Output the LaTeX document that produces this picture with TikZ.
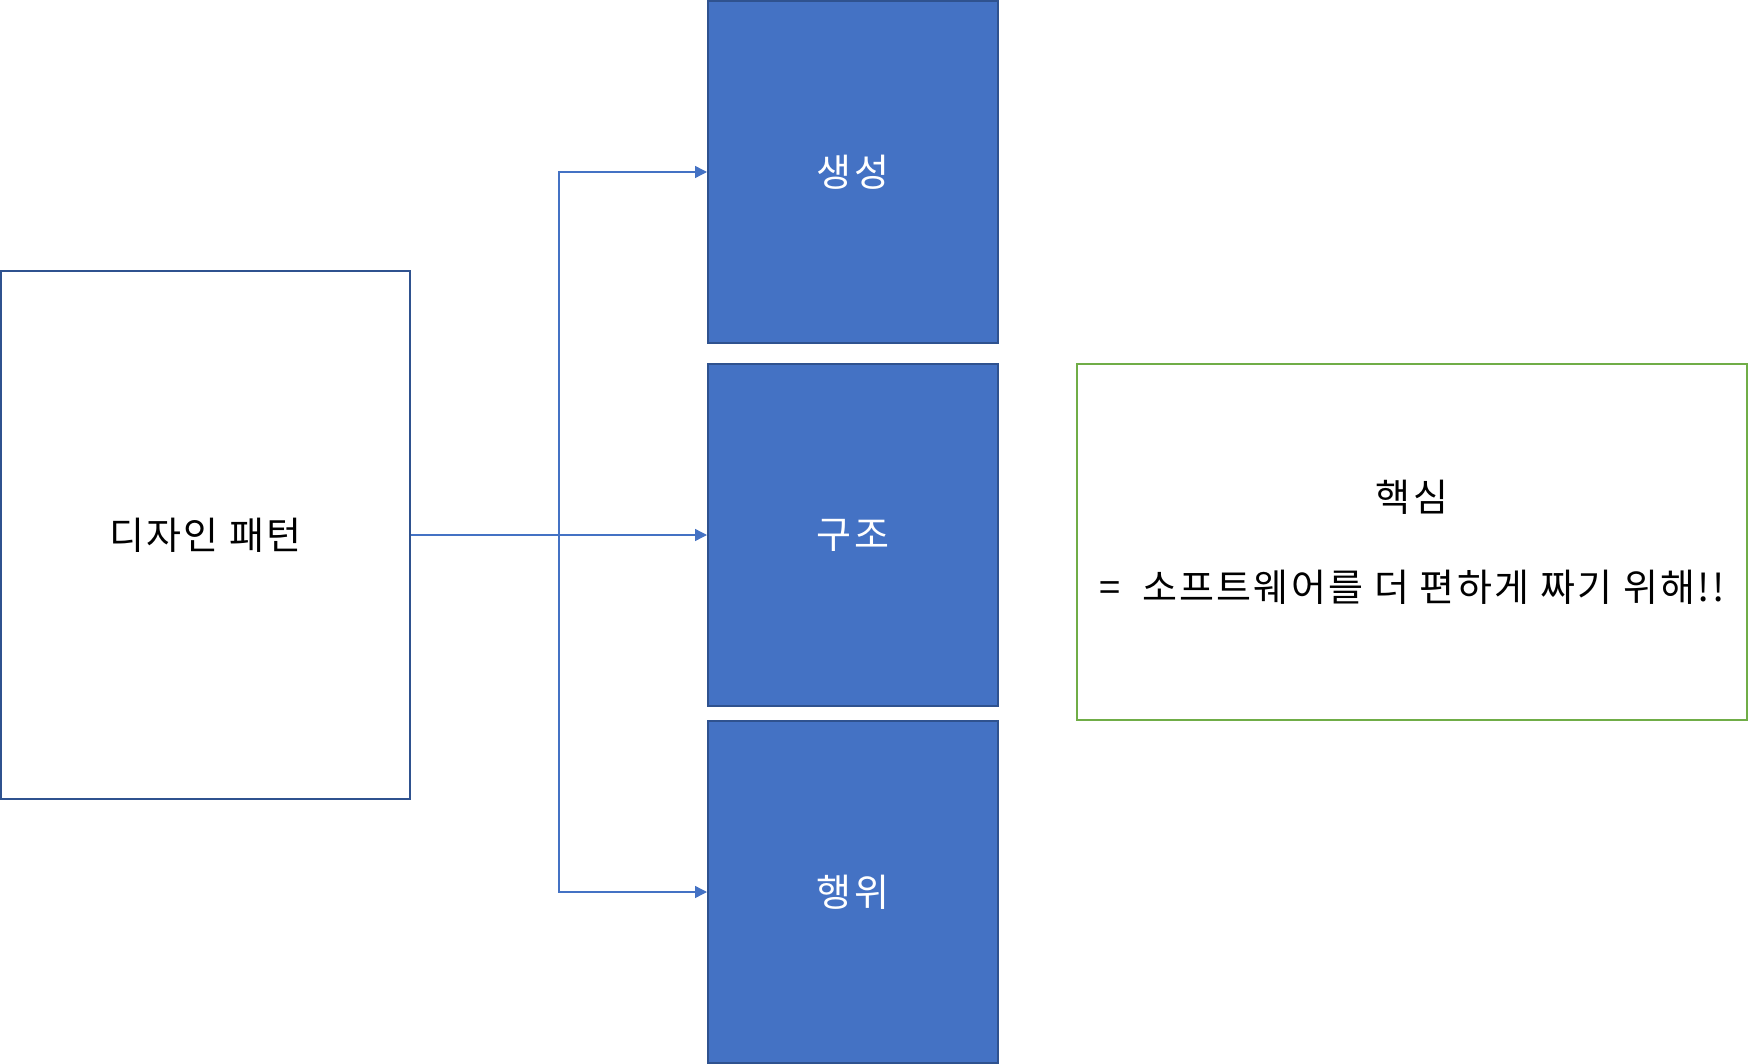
\documentclass[tikz,border=0pt]{standalone}
\usepackage{fontspec}
\setmainfont{Noto Sans CJK KR}
\newfontfamily\boxfont{Noto Sans CJK KR}[LetterSpace=6]
\usetikzlibrary{arrows.meta,positioning}
\definecolor{boxblue}{HTML}{4472C4}
\definecolor{edgeblue}{HTML}{2F528F}
\definecolor{boxgreen}{HTML}{70AD47}

\begin{document}
\begin{tikzpicture}[x=0.5pt, y=-0.5pt,
  outline/.style={draw=edgeblue, line width=1.1pt, fill=white, inner sep=0pt, minimum width=204.5pt, minimum height=264pt, font=\boxfont\fontsize{19}{23}\selectfont},
  kind/.style={draw=edgeblue, line width=1pt, fill=boxblue, text=white, inner sep=0pt, minimum width=145pt, minimum height=171pt, font=\boxfont\fontsize{19}{23}\selectfont},
  note/.style={draw=boxgreen, line width=1pt, inner sep=0pt, minimum width=335pt, minimum height=178pt, align=center, font=\boxfont\fontsize{19}{23}\selectfont},
  arr/.style={-{Triangle[length=6pt, width=6pt]}, draw=boxblue, line width=0.7pt}
]
\useasboundingbox (0,0) rectangle (1756,1064);

\node[outline] (design) at (205.5,535) {디자인 패턴};
\node[kind] (create) at (853,172) {생성};
\node[kind] (struct) at (853,535) {구조};
\node[kind] (behave) at (853,892) {행위};
\node[note] (core) at (1412,542) {핵심\\[22pt]= \ 소프트웨어를 더 편하게 짜기 위해!!};

\coordinate (fork) at (559,535);
\draw[arr] (design.east) -- (fork) |- (create.west);
\draw[arr] (fork) -- (struct.west);
\draw[arr] (fork) |- (behave.west);
\end{tikzpicture}
\end{document}
